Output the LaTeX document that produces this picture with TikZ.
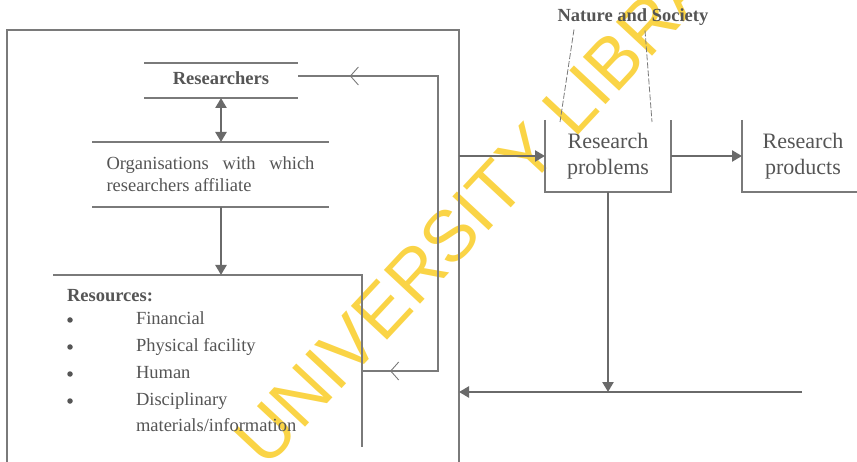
\documentclass[tikz,border=0pt]{standalone}
\usepackage{fontspec}
\setmainfont{Liberation Serif}
\newfontfamily\wmfont{Liberation Sans}
\usetikzlibrary{arrows.meta,decorations.markings,calc}
\definecolor{ln}{HTML}{7A7A7A}
\definecolor{ar}{HTML}{6A6A6A}
\definecolor{tx}{HTML}{555555}
\definecolor{wm}{RGB}{250,212,70}
\begin{document}
\begin{tikzpicture}[x=1pt,y=-1pt,
  thinln/.style={draw=ln, line width=1.1pt},
  thickar/.style={draw=ar, line width=2.4pt, -{Triangle[length=10pt,width=11pt]}},
  dblar/.style={draw=ar, line width=2.4pt, {Triangle[length=10pt,width=11pt]}-{Triangle[length=10pt,width=11pt]}},
  dashln/.style={draw=ln, line width=0.8pt, dash pattern=on 6pt off 2pt},
  box/.style={inner sep=0pt, outer sep=0pt},
  txt/.style={text=tx, font=\fontsize{18.5}{22}\selectfont, inner sep=0pt, outer sep=0pt},
  one/.style={txt, text height=13pt, text depth=4pt},
  boldtxt/.style={one, font=\fontsize{18.5}{22}\selectfont\bfseries},
  big/.style={text=tx, font=\fontsize{22}{26}\selectfont, align=center, inner sep=0pt, outer sep=0pt},
  dot/.style={circle, fill=tx, inner sep=0pt, minimum size=5.5pt},
  chev/.style={postaction={decorate}, decoration={markings, mark=at position #1 with {\arrow[ln, line width=0.9pt]{Straight Barb[length=8pt,width=18pt]}}}},
]
\useasboundingbox (0,0) rectangle (857,462);

% watermark (behind the diagram)
\node[rotate=47, anchor=base west, text=wm, inner sep=0pt, font=\wmfont\fontsize{72}{72}\selectfont] (wm) at (266,470) {UNIVERSITY LIBRARY};

% outer frame (open at the bottom)
\node[box, minimum width=452pt, minimum height=450pt] (outer) at (233,255) {};
\draw[thinln] (outer.south west) -- (outer.north west) -- (outer.north east) -- (outer.south east);

% Researchers
\node[boldtxt, minimum width=154pt, minimum height=35pt] (res) at (221,80.5) {Researchers};
\draw[thinln] (res.north west) -- (res.north east) (res.south west) -- (res.south east);

% Organisations
\node[txt, minimum width=237pt, minimum height=65pt, text width=208pt, align=justify] (org) at (210.5,174.5)
  {\hyphenpenalty=10000\exhyphenpenalty=10000 Organisations with which researchers affiliate};
\draw[thinln] (org.north west) -- (org.north east) (org.south west) -- (org.south east);

\draw[dblar] (res.south) -- (res.south |- org.north);

% Resources
\node[box, minimum width=309pt, minimum height=172pt] (rsrc) at (207.5,361) {};
\draw[thinln] (rsrc.north west) -- (rsrc.north east) -- (rsrc.south east);
\draw[thickar] (res.south |- org.south) -- (res.south |- rsrc.north);

\node[boldtxt, anchor=west] (rhead) at (67,297) {Resources:};
\node[dot] (b1) at (70,320) {};
\node[dot] (b2) at (70,347) {};
\node[dot] (b3) at (70,374) {};
\node[dot] (b4) at (70,401) {};
\node[one, anchor=west] (i1) at (136,320) {Financial};
\node[one, anchor=west] (i2) at (136,347) {Physical facility};
\node[one, anchor=west] (i3) at (136,374) {Human};
\node[one, anchor=west] (i4) at (136,401) {Disciplinary};
\node[one, anchor=west] (i5) at (136,427) {materials/information};

% feedback loop
\coordinate (fbT) at (438,76);
\coordinate (fbB) at (438,371);
\draw[thinln, line join=miter] (fbT -| res.east) -- (fbT) -- (fbB) -- (fbB -| rsrc.east);
\draw[thinln, chev=0.63] (fbT) -- (fbT -| res.east);
\draw[thinln, chev=0.63] (fbB) -- (fbB -| rsrc.east);

% Research problems / products
\node[big, minimum width=126pt, minimum height=72pt] (rp) at (608,156) {Research\\problems};
\draw[thinln] (rp.north west) -- (rp.south west) -- (rp.south east) -- (rp.north east);
\node[big, minimum width=122pt, minimum height=72pt] (prod) at (803,156) {Research\\products};
\draw[thinln] (prod.north west) -- (prod.south west) -- (prod.south east);

\draw[thickar] (outer.east |- rp.west) -- (rp.west);
\draw[thickar] (rp.east) -- (prod.west);

% Nature and Society
\node[boldtxt] (ns) at (633,17) {Nature and Society};
\draw[dashln] ([xshift=-59pt,yshift=-4pt]ns.south) -- ([xshift=-48pt,yshift=-2pt]rp.north);
\draw[dashln] ([xshift=12pt,yshift=-5pt]ns.south) -- ([xshift=44pt,yshift=-2pt]rp.north);

% return line
\coordinate (botR) at (802,392);
\draw[thickar] (rp.south) -- (rp.south |- botR);
\draw[thickar] (botR) -- (botR -| outer.east);
\end{tikzpicture}
\end{document}
